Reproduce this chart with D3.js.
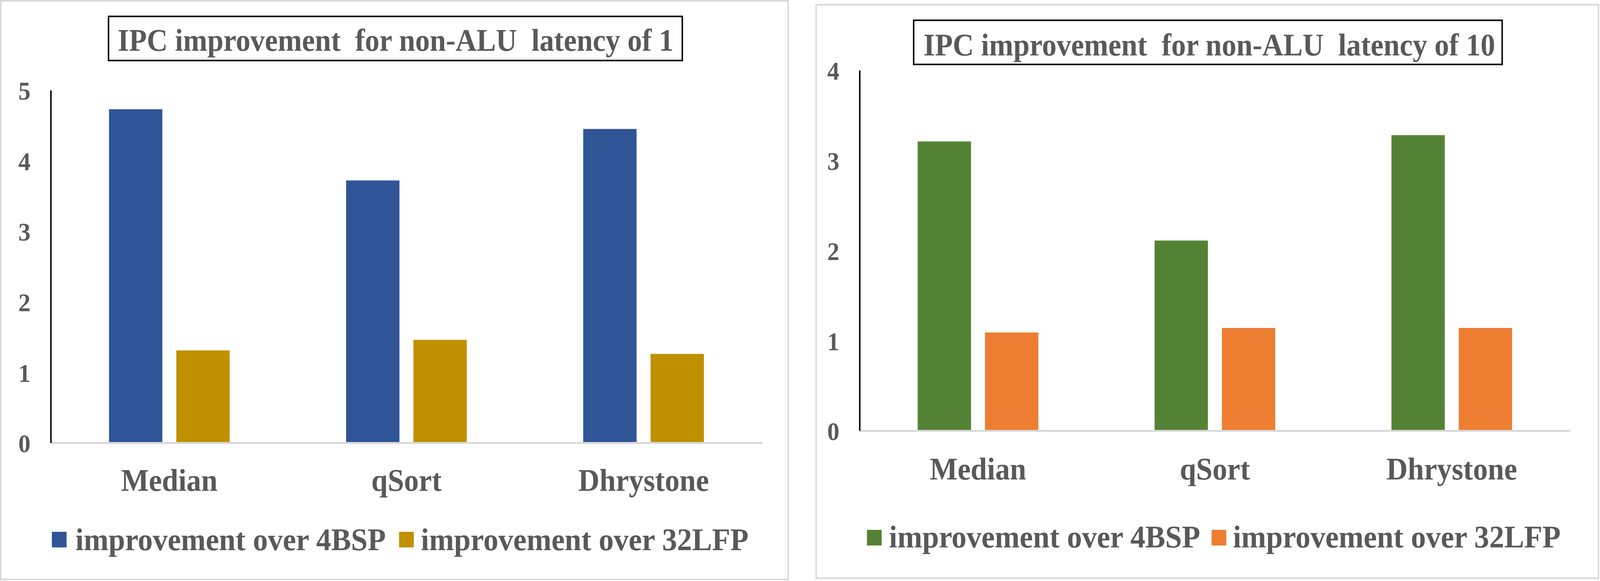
<!DOCTYPE html>
<html>
<head>
<meta charset="utf-8">
<script src="https://cdn.jsdelivr.net/npm/d3@7"></script>
<style>
  html, body { margin: 0; padding: 0; background: #fff; width: 100%; height: 100%; overflow: hidden; }
  svg { display: block; width: 100vw; height: 100vh; }
  text { font-family: "Liberation Serif", "Times New Roman", serif; font-weight: bold; fill: #595959; }
</style>
</head>
<body>
<svg viewBox="0 0 4350 1488" preserveAspectRatio="none"></svg>
<script>
const categories = ["Median", "qSort", "Dhrystone"];
const seriesNames = ["improvement over 4BSP", "improvement over 32LFP"];

// latency 1
const lat1Over4BSP = [4.73, 3.72, 4.45];
const lat1Over32LFP = [1.31, 1.46, 1.26];
const lat1Ticks = [0, 1, 2, 3, 4, 5];

// latency 10
const lat10Over4BSP = [3.21, 2.11, 3.28];
const lat10Over32LFP = [1.09, 1.14, 1.14];
const lat10Ticks = [0, 1, 2, 3, 4];

const svg = d3.select("svg");

const panels = [
  {
    title: "IPC improvement  for non-ALU  latency of 1",
    values: [lat1Over4BSP, lat1Over32LFP],
    ticks: lat1Ticks,
    colors: ["#2F5597", "#BF9000"],
    frame: { x0: 2, y0: 2, x1: 2143, y1: 1484 },
    plot: { x0: 138, x1: 2072, top: 231, bottom: 1134 },
    titleBox: { x0: 295, x1: 1855, y0: 42, y1: 155, tx: 320, tw: 1511, ty: 130 },
    catDy: 123,
    legend: { y: 1362, ty: 1409, sq: [141, 1085], tx: [205, 1144], tw: [844, 891] }
  },
  {
    title: "IPC improvement  for non-ALU  latency of 10",
    values: [lat10Over4BSP, lat10Over32LFP],
    ticks: lat10Ticks,
    colors: ["#548235", "#ED7D31"],
    frame: { x0: 2219, y0: 12, x1: 4346, y1: 1481 },
    plot: { x0: 2337, x1: 4269, top: 180, bottom: 1103 },
    titleBox: { x0: 2484, x1: 4084, y0: 52, y1: 165, tx: 2511, tw: 1554, ty: 142 },
    catDy: 125,
    legend: { y: 1357, ty: 1402, sq: [2357, 3294], tx: [2417, 3352], tw: [846, 891] }
  }
];

panels.forEach(p => {
  const g = svg.append("g");

  // outer frame
  g.append("rect")
    .attr("x", p.frame.x0).attr("y", p.frame.y0)
    .attr("width", p.frame.x1 - p.frame.x0)
    .attr("height", p.frame.y1 - p.frame.y0)
    .attr("fill", "#fff")
    .attr("stroke", "#d9d9d9")
    .attr("stroke-width", 4);

  const x = d3.scaleBand().domain(categories).range([p.plot.x0, p.plot.x1]);
  const y = d3.scaleLinear()
    .domain([0, d3.max(p.ticks)])
    .range([p.plot.bottom, p.plot.top]);

  const barW = 145, gap = 38;
  const groupW = barW * 2 + gap;

  // bars
  p.values.forEach((vals, si) => {
    g.selectAll(null)
      .data(vals)
      .enter()
      .append("rect")
      .attr("x", (d, i) => x(categories[i]) + (x.bandwidth() - groupW) / 2 + si * (barW + gap))
      .attr("y", d => y(d))
      .attr("width", barW)
      .attr("height", d => y(0) - y(d))
      .attr("fill", p.colors[si]);
  });

  // x axis (baseline + category labels)
  const xAxis = g.append("g")
    .attr("transform", `translate(0,${p.plot.bottom})`)
    .call(d3.axisBottom(x).tickSize(0).tickSizeOuter(0));
  xAxis.select(".domain").attr("stroke", "#d9d9d9").attr("stroke-width", 5);
  xAxis.selectAll("text")
    .attr("y", p.catDy).attr("dy", 0)
    .attr("font-size", 80)
    .style("font-family", "'Liberation Serif', serif")
    .style("font-weight", "bold")
    .attr("fill", "#595959");

  // y axis
  const yAxis = g.append("g")
    .attr("transform", `translate(${p.plot.x0},0)`)
    .call(d3.axisLeft(y).tickValues(p.ticks).tickFormat(d3.format("d")).tickSize(0).tickSizeOuter(0).tickPadding(55));
  yAxis.select(".domain").attr("stroke", "#000").attr("stroke-width", 4);
  yAxis.selectAll("text")
    .attr("font-size", 66)
    .attr("dy", "0.36em")
    .style("font-family", "'Liberation Serif', serif")
    .style("font-weight", "bold")
    .attr("fill", "#595959");

  // title box
  g.append("rect")
    .attr("x", p.titleBox.x0).attr("y", p.titleBox.y0)
    .attr("width", p.titleBox.x1 - p.titleBox.x0)
    .attr("height", p.titleBox.y1 - p.titleBox.y0)
    .attr("fill", "none")
    .attr("stroke", "#000")
    .attr("stroke-width", 4);
  g.append("text")
    .attr("x", p.titleBox.tx).attr("y", p.titleBox.ty)
    .attr("font-size", 80)
    .attr("textLength", p.titleBox.tw)
    .attr("lengthAdjust", "spacingAndGlyphs")
    .style("white-space", "pre")
    .text(p.title);

  // legend
  seriesNames.forEach((name, si) => {
    g.append("rect")
      .attr("x", p.legend.sq[si]).attr("y", p.legend.y)
      .attr("width", 40).attr("height", 40)
      .attr("fill", p.colors[si]);
    g.append("text")
      .attr("x", p.legend.tx[si]).attr("y", p.legend.ty)
      .attr("font-size", 81)
      .attr("textLength", p.legend.tw[si])
      .attr("lengthAdjust", "spacingAndGlyphs")
      .text(name);
  });
});
</script>
</body>
</html>
